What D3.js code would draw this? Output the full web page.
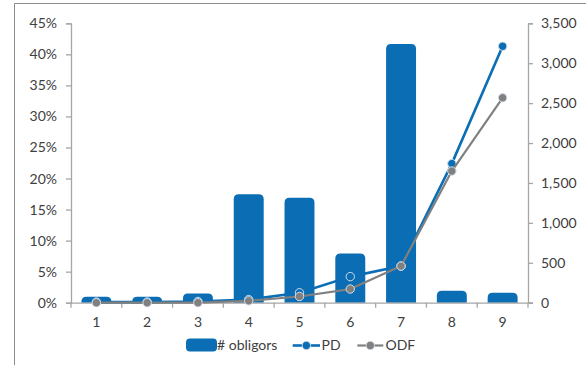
<!DOCTYPE html>
<html>
<head>
<meta charset="utf-8">
<script src="https://cdn.jsdelivr.net/npm/d3@7"></script>
<style>
  html, body { margin: 0; padding: 0; background: #fff; }
  svg text { font-family: Lato, "Open Sans", sans-serif; font-size: 14px; fill: #404040; }
</style>
</head>
<body>
<svg id="chart" width="586" height="365"></svg>
<script>
// Rating grades
const grades = ["1", "2", "3", "4", "5", "6", "7", "8", "9"];
// Number of obligors per grade (right axis)
const obligors = [75, 75, 115, 1360, 1315, 615, 3240, 150, 125];
// Predicted default probability, % (left axis)
const pd = [0.1, 0.1, 0.2, 0.5, 1.6, 4.2, 5.9, 22.4, 41.3];
// Observed default frequency, % (left axis)
const odf = [0.0, 0.0, 0.0, 0.3, 1.0, 2.2, 5.9, 21.2, 33.0];
// Axis ticks
const pctTicks = [0, 5, 10, 15, 20, 25, 30, 35, 40, 45];
const countTicks = [0, 500, 1000, 1500, 2000, 2500, 3000, 3500];

const blue = "#0b6eb5";
const grey = "#808080";
const axisCol = "#a6a6a6";

const svg = d3.select("#chart");

// Outer frame
svg.append("path")
  .attr("d", "M14.5,365 V3.5 H586")
  .attr("fill", "none").attr("stroke", "#8c8c8c").attr("stroke-width", 1);

const plotL = 71, plotR = 528, plotT = 23.3, plotB = 302.7;

const x = d3.scaleBand().domain(grades).range([plotL, plotR]).paddingInner(0.41).paddingOuter(0.205);
const xb = d3.scaleBand().domain(grades).range([plotL, plotR]);
const yL = d3.scaleLinear().domain([0, 45]).range([plotB, plotT]);
const yR = d3.scaleLinear().domain([0, 3500]).range([plotB, plotT]);

// Bars with rounded tops
const r = 5;
svg.append("g").selectAll("path").data(grades).join("path")
  .attr("fill", blue)
  .attr("d", (g, i) => {
    const x0 = x(g), w = x.bandwidth(), y0 = yR(obligors[i]), h = plotB - y0;
    const rr = Math.min(r, h, w / 2);
    return `M${x0},${plotB} V${y0 + rr} Q${x0},${y0} ${x0 + rr},${y0} H${x0 + w - rr} Q${x0 + w},${y0} ${x0 + w},${y0 + rr} V${plotB} Z`;
  });

// Left axis
const gL = svg.append("g").attr("transform", `translate(${plotL},0)`)
  .call(d3.axisLeft(yL).tickValues(pctTicks).tickFormat(d => d + "%").tickSize(5).tickPadding(9));
// Right axis
const gR = svg.append("g").attr("transform", `translate(${plotR},0)`)
  .call(d3.axisRight(yR).tickValues(countTicks).tickFormat(d3.format(",")).tickSize(5).tickPadding(8));
// Bottom axis with ticks between categories
const gB = svg.append("g").attr("transform", `translate(0,${plotB})`)
  .call(d3.axisBottom(xb).tickSize(0).tickPadding(14));
gB.select(".domain").attr("d", `M${plotL},0.5 H${plotR + 5}`);
gB.selectAll(".sep").data(d3.range(grades.length + 1)).join("line")
  .attr("class", "sep")
  .attr("x1", i => plotL + i * xb.step()).attr("x2", i => plotL + i * xb.step())
  .attr("y1", 0).attr("y2", 5);

[gL, gR, gB].forEach(g => {
  g.selectAll(".domain").attr("stroke", axisCol).attr("stroke-width", 1.3);
  g.selectAll(".tick line, .sep").attr("stroke", axisCol).attr("stroke-width", 1.3);
  g.selectAll("text").attr("fill", "#404040").style("font-size", "14px")
    .style("font-family", "Lato, sans-serif");
});

// Series lines with markers
const cx = g => x(g) + x.bandwidth() / 2;
function series(vals, color, width) {
  const line = d3.line().x((d, i) => cx(grades[i])).y(d => yL(d));
  svg.append("path").datum(vals).attr("d", line)
    .attr("fill", "none").attr("stroke", color).attr("stroke-width", width)
    .attr("stroke-linejoin", "round");
  svg.append("g").selectAll("circle").data(vals).join("circle")
    .attr("cx", (d, i) => cx(grades[i])).attr("cy", d => yL(d)).attr("r", 4.2)
    .attr("fill", color).attr("stroke", "#cfdcea").attr("stroke-width", 1);
}
series(pd, blue, 2.6);
series(odf, grey, 2.2);

// Legend
const leg = svg.append("g");
const ly = 345.5;
leg.append("rect").attr("x", 186).attr("y", ly - 7).attr("width", 31).attr("height", 13)
  .attr("rx", 4).attr("fill", blue);
leg.append("text").attr("x", 217).attr("y", ly).attr("dy", "0.35em").text("# obligors");
const keys = [
  { x0: 292.7, x1: 320, label: "PD", color: blue, w: 2.6, tx: 321.5 },
  { x0: 357.3, x1: 383.3, label: "ODF", color: grey, w: 2.2, tx: 385.5 }
];
keys.forEach(k => {
  leg.append("line").attr("x1", k.x0).attr("x2", k.x1).attr("y1", ly).attr("y2", ly)
    .attr("stroke", k.color).attr("stroke-width", k.w);
  leg.append("circle").attr("cx", (k.x0 + k.x1) / 2).attr("cy", ly).attr("r", 4.2)
    .attr("fill", k.color).attr("stroke", "#cfdcea").attr("stroke-width", 1);
  leg.append("text").attr("x", k.tx).attr("y", ly).attr("dy", "0.35em").text(k.label);
});
</script>
</body>
</html>
